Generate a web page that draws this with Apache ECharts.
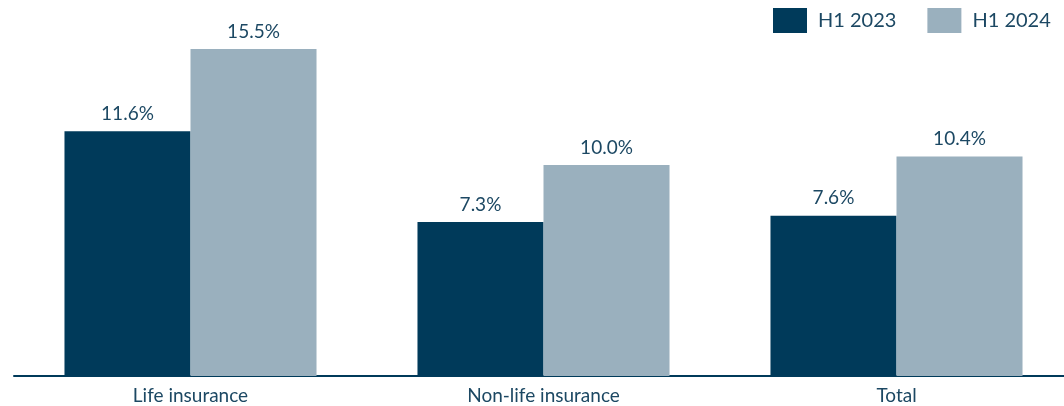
<!DOCTYPE html>
<html>
<head>
<meta charset="utf-8">
<script src="https://cdn.jsdelivr.net/npm/echarts@6/dist/echarts.min.js"></script>
<style>
  html, body { margin: 0; padding: 0; background: #ffffff; }
  #chart { width: 1064px; height: 406px; }
</style>
</head>
<body>
<div id="chart"></div>
<script>
// Growth by line of business, first half of the year
const categories = ['Life insurance', 'Non-life insurance', 'Total'];
const seriesNames = ['H1 2023', 'H1 2024'];
const valuesH1_2023 = [11.6, 7.3, 7.6];
const valuesH1_2024 = [15.5, 10.0, 10.4];

const DARK = '#003a5a';
const LIGHT = '#9ab0be';
const TEXT = '#1c4863';
const FONT = 'Lato, "Open Sans", sans-serif';

const labelStyle = {
  show: true,
  position: 'top',
  distance: 8,
  color: TEXT,
  fontFamily: FONT,
  fontSize: 19,
  formatter: p => p.value.toFixed(1) + '%'
};

const chart = echarts.init(document.getElementById('chart'), null, { renderer: 'canvas' });
chart.setOption({
  animation: false,
  backgroundColor: '#ffffff',
  legend: {
    left: 773,
    top: 8,
    padding: 0,
    itemWidth: 34,
    itemHeight: 25,
    itemGap: 31,
    icon: 'rect',
    textStyle: { color: TEXT, fontFamily: FONT, fontSize: 20, padding: [0, 0, 0, 6] },
    data: seriesNames
  },
  // the plot area runs slightly past the right edge of the canvas
  grid: { left: 14, top: 38.4, width: 1059, bottom: 30, containLabel: false, outerBoundsMode: 'none' },
  xAxis: {
    type: 'category',
    data: categories,
    axisLine: { lineStyle: { color: DARK, width: 2 } },
    axisTick: { show: false },
    axisLabel: { color: TEXT, fontFamily: FONT, fontSize: 19, margin: 10 }
  },
  yAxis: {
    type: 'value',
    min: 0,
    max: 16,
    show: false,
    splitLine: { show: false }
  },
  series: [
    {
      name: seriesNames[0],
      type: 'bar',
      data: valuesH1_2023,
      itemStyle: { color: DARK },
      barGap: '0%',
      barCategoryGap: '28.6%',
      label: labelStyle
    },
    {
      name: seriesNames[1],
      type: 'bar',
      data: valuesH1_2024,
      itemStyle: { color: LIGHT },
      label: labelStyle
    }
  ]
});
</script>
</body>
</html>
